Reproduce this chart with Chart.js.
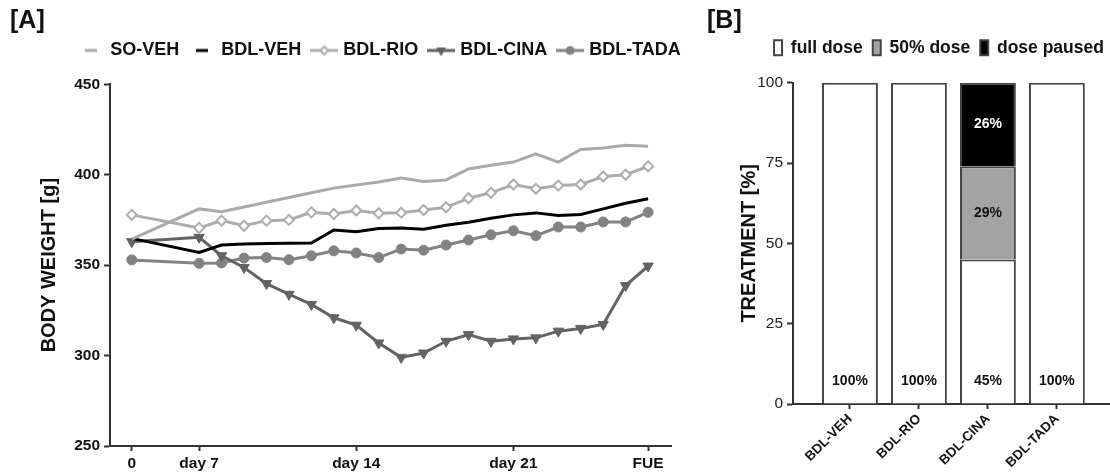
<!DOCTYPE html>
<html>
<head>
<meta charset="utf-8">
<title>Body weight and treatment</title>
<script src="https://cdn.jsdelivr.net/npm/chart.js@4.4.1/dist/chart.umd.min.js"></script>
<style>
  html, body { margin: 0; padding: 0; background: #fff; }
  #figure { position: relative; width: 1110px; height: 472px; overflow: hidden; }
  .panel { position: absolute; top: 7px; font: bold 25px/25px 'Liberation Sans', Arial, sans-serif; color: #111; }
  canvas { position: absolute; top: 0; }
</style>
</head>
<body>
<div id="figure">
  <canvas id="chart-weight" width="700" height="472" style="left:0"></canvas>
  <canvas id="chart-dose" width="410" height="472" style="left:700px"></canvas>
  <div class="panel" style="left:10px">[A]</div>
  <div class="panel" style="left:707px">[B]</div>
</div>
<script>
// ============================
// DATA
// ============================

// [A] body weight, one slot per measurement (0, then daily from day 7 to FUE)
const timeLabels = ['0', '', '', 'day 7', '', '', '', '', '', '', 'day 14', '', '', '', '', '', '', 'day 21', '', '', '', '', '', 'FUE'];

const soVeh    = [364.4, null, null, 381.1, 379.6, 382.2, 384.8, 387.4, 390.0, 392.6, 394.3, 396.0, 398.2, 396.3, 397.1, 403.2, 405.2, 407.0, 411.6, 407.0, 414.0, 414.8, 416.3, 415.7];
const bdlVeh   = [364.8, null, null, 357.0, 361.1, 361.7, 362.0, 362.1, 362.2, 369.4, 368.5, 370.3, 370.6, 369.9, 372.1, 373.7, 375.9, 377.8, 378.9, 377.4, 378.0, 381.1, 384.2, 386.7];
const bdlRio   = [377.8, null, null, 370.6, 374.6, 371.8, 374.6, 375.0, 379.2, 378.3, 380.2, 378.7, 379.0, 380.5, 382.0, 387.0, 390.0, 394.6, 392.2, 394.0, 394.6, 399.0, 400.0, 404.6];
const bdlCina  = [363.0, null, null, 365.4, 355.2, 348.7, 339.8, 333.9, 328.3, 320.9, 316.8, 307.0, 299.0, 301.4, 307.9, 311.6, 307.9, 309.2, 309.8, 313.5, 315.0, 317.2, 338.7, 349.5];
const bdlTada  = [352.9, null, null, 351.0, 351.2, 353.9, 354.2, 353.0, 355.2, 357.9, 356.7, 354.2, 358.9, 358.3, 361.1, 363.9, 366.8, 369.0, 366.3, 371.1, 371.1, 373.9, 373.9, 379.2];

const weightTicks = [250, 300, 350, 400, 450];

// [B] treatment share per group
const groups     = ['BDL-VEH', 'BDL-RIO', 'BDL-CINA', 'BDL-TADA'];
const fullDose   = [100, 100, 45, 100];
const halfDose   = [0, 0, 29, 0];
const dosePaused = [0, 0, 26, 0];
const doseTicks  = [0, 25, 50, 75, 100];

// ============================
// STYLE HELPERS
// ============================

const FAMILY = "'Liberation Sans', Arial, Helvetica, sans-serif";
const INK = '#111';
const AXIS = '#333';

Chart.defaults.font.family = FAMILY;
Chart.defaults.color = INK;
Chart.defaults.animation = false;

const markers = {
  rio:  { pointStyle: 'rectRot',  radius: 5, rotation: 0,   fill: '#ffffff', border: 2 },
  cina: { pointStyle: 'triangle', radius: 6, rotation: 180, fill: '#636363', border: 1 },
  tada: { pointStyle: 'circle',   radius: 5, rotation: 0,   fill: '#828282', border: 1 }
};

function lineSet(label, values, color, marker) {
  return {
    label: label,
    data: values.map((y, i) => ({ x: i, y: y })).filter(p => p.y !== null),
    borderColor: color,
    borderWidth: 3,
    tension: 0,
    pointStyle: marker ? marker.pointStyle : false,
    pointRadius: marker ? marker.radius : 0,
    pointRotation: marker ? marker.rotation : 0,
    pointBackgroundColor: marker ? marker.fill : color,
    pointBorderColor: color,
    pointBorderWidth: marker ? marker.border : 0
  };
}

// small line(+marker) sample for the legend, drawn with the library's own point routine
function legendIcon(color, marker) {
  const c = document.createElement('canvas');
  c.width = marker ? 28 : 12;
  c.height = 14;
  const g = c.getContext('2d');
  g.strokeStyle = color;
  g.lineWidth = 3;
  g.beginPath(); g.moveTo(0, 7); g.lineTo(c.width, 7); g.stroke();
  if (marker) {
    g.fillStyle = marker.fill;
    g.lineWidth = marker.border;
    Chart.helpers.drawPoint(g, { pointStyle: marker.pointStyle, radius: marker.radius - 1, rotation: marker.rotation, borderWidth: marker.border }, c.width / 2, 7);
  }
  return c;
}

// pins the legend height (so the plot starts where it should) and centres it on a given x
function legendPlace(height, centerX) {
  return {
    id: 'legendPlace',
    beforeInit(chart) {
      const legend = chart.legend;
      const fit = legend.fit;
      legend.fit = function () {
        fit.call(this);
        this.height = height;
      };
    },
    afterLayout(chart) {
      const legend = chart.legend;
      const dx = centerX - (legend.left + legend.right) / 2;
      legend.left += dx;
      legend.right += dx;
    }
  };
}

function axisGrid(len) {
  return { display: true, drawOnChartArea: false, offset: false, tickLength: len, tickWidth: 2, tickColor: AXIS };
}

// ============================
// [A] BODY WEIGHT
// ============================

const weightSets = [
  lineSet('SO-VEH',   soVeh,   '#aaaaaa', null),
  lineSet('BDL-VEH',  bdlVeh,  '#000000', null),
  lineSet('BDL-RIO',  bdlRio,  '#adadad', markers.rio),
  lineSet('BDL-CINA', bdlCina, '#636363', markers.cina),
  lineSet('BDL-TADA', bdlTada, '#828282', markers.tada)
];
const weightIcons = [
  legendIcon('#aaaaaa', null),
  legendIcon('#000000', null),
  legendIcon('#adadad', markers.rio),
  legendIcon('#636363', markers.cina),
  legendIcon('#828282', markers.tada)
];

new Chart(document.getElementById('chart-weight'), {
  type: 'line',
  data: { datasets: weightSets },
  options: {
    responsive: false,
    events: [],
    layout: { padding: { top: 28.5, right: 29, bottom: 0, left: 0 } },
    plugins: {
      tooltip: { enabled: false },
      legend: {
        labels: {
          usePointStyle: true,
          pointStyleWidth: 20,
          boxHeight: 14,
          padding: 13,
          color: INK,
          font: { size: 18, weight: 'bold' },
          generateLabels: chart => chart.data.datasets.map((ds, i) => ({
            text: ds.label,
            datasetIndex: i,
            pointStyle: weightIcons[i],
            fillStyle: 'transparent',
            strokeStyle: 'transparent',
            lineWidth: 0,
            fontColor: INK
          }))
        }
      }
    },
    scales: {
      x: {
        type: 'linear',
        min: -0.97,
        max: 24.02,
        afterBuildTicks: s => {
          s.ticks = timeLabels.map((t, i) => (t ? { value: i } : null)).filter(Boolean);
        },
        ticks: { autoSkip: false, maxRotation: 0, padding: 3, color: INK, font: { size: 15.5, weight: 'bold' }, callback: v => timeLabels[v] },
        grid: axisGrid(5),
        border: { color: AXIS, width: 2 },
        afterFit: s => { s.height = 26; }
      },
      y: {
        min: 250,
        max: 450,
        afterBuildTicks: s => { s.ticks = weightTicks.map(v => ({ value: v })); },
        ticks: { padding: 4, color: INK, font: { size: 15.5, weight: 'bold' } },
        grid: axisGrid(6),
        border: { color: AXIS, width: 2 },
        title: { display: true, text: 'BODY WEIGHT [g]', color: INK, font: { size: 20, weight: 'bold' }, padding: { top: 37, bottom: 0 } },
        afterFit: s => { s.width = 110; }
      }
    }
  },
  plugins: [legendPlace(84.3 - 28.5, 381)]
});

// ============================
// [B] TREATMENT
// ============================

const doseSeries = [fullDose, halfDose, dosePaused];
const doseNames  = ['full dose', '50% dose', 'dose paused'];
const doseFills  = ['#ffffff', '#a3a3a3', '#000000'];
const labelInk   = ['#111111', '#111111', '#ffffff'];
const fullLabelAt = 7.2; // labels of the white segments sit near the base

const barLabels = {
  id: 'barLabels',
  afterDatasetsDraw(chart) {
    const ctx = chart.ctx;
    const y = chart.scales.y;
    ctx.save();
    ctx.font = 'bold 14px ' + FAMILY;
    ctx.textAlign = 'center';
    ctx.textBaseline = 'middle';
    doseSeries.forEach((values, d) => {
      const bars = chart.getDatasetMeta(d).data;
      values.forEach((v, i) => {
        if (!v) return;
        const bar = bars[i];
        const yPix = d === 0 ? y.getPixelForValue(fullLabelAt) : (bar.y + bar.base) / 2;
        ctx.fillStyle = labelInk[d];
        ctx.fillText(v + '%', bar.x, yPix);
      });
    });
    ctx.restore();
  }
};

new Chart(document.getElementById('chart-dose'), {
  type: 'bar',
  data: {
    datasets: doseSeries.map((values, d) => ({
      label: doseNames[d],
      data: values.map((y, i) => ({ x: i, y: y })),
      backgroundColor: doseFills[d],
      borderColor: '#444',
      borderWidth: 2,
      categoryPercentage: 1,
      barPercentage: 0.81
    }))
  },
  options: {
    responsive: false,
    events: [],
    layout: { padding: { top: 29, right: 0, bottom: 0, left: 0 } },
    plugins: {
      tooltip: { enabled: false },
      legend: {
        labels: { boxWidth: 8, boxHeight: 15, padding: 10, color: INK, font: { size: 17.5, weight: 'bold' } }
      }
    },
    scales: {
      x: {
        type: 'linear',
        stacked: true,
        offset: false,
        min: -0.826,
        max: 3.77,
        afterBuildTicks: s => { s.ticks = groups.map((g, i) => ({ value: i })); },
        ticks: { autoSkip: false, minRotation: 45, maxRotation: 45, padding: 2, color: INK, font: { size: 13.5, weight: 'bold' }, callback: v => groups[v] },
        grid: axisGrid(5),
        border: { color: AXIS, width: 2 },
        afterFit: s => { s.height = 68; }
      },
      y: {
        stacked: true,
        min: 0,
        max: 100,
        afterBuildTicks: s => { s.ticks = doseTicks.map(v => ({ value: v })); },
        ticks: { padding: 4, color: '#222', font: { size: 15.5 } },
        grid: axisGrid(6),
        border: { color: AXIS, width: 2 },
        title: { display: true, text: 'TREATMENT [%]', color: INK, font: { size: 20, weight: 'bold' }, padding: { top: 37, bottom: 0 } },
        afterFit: s => { s.width = 93; }
      }
    }
  },
  plugins: [barLabels, legendPlace(82.7 - 29, 239)]
});
</script>
</body>
</html>
